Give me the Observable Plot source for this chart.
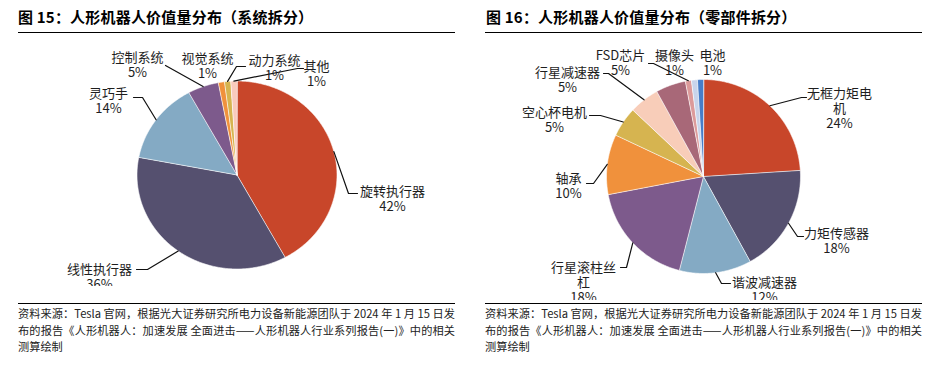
<!DOCTYPE html>
<html>
<head>
<meta charset="utf-8">
<script src="https://cdn.jsdelivr.net/npm/d3@7"></script>
<script src="https://cdn.jsdelivr.net/npm/@observablehq/plot@0.6"></script>
<style>
body{margin:0;background:#fff;font-family:"Noto Sans CJK SC","Noto Sans",sans-serif;}
.panel{position:absolute;top:0;width:465px;height:365px;}
.title{position:absolute;top:6px;font-size:15px;font-weight:700;color:#000;white-space:nowrap;letter-spacing:0.2px;}
.trule{position:absolute;width:437px;top:32px;border-top:1.3px solid #000;}
.chart{position:absolute;left:0;top:36px;width:465px;overflow:hidden;}
.crule{position:absolute;width:437px;top:303px;border-top:1px solid #000;}
.cap{position:absolute;width:437px;top:305px;font-size:11.2px;line-height:16.5px;color:#222;}
.cap div{white-space:nowrap;text-align:justify;text-align-last:justify;width:437px;}
.cap div.last{text-align-last:left;}
</style>
</head>
<body>
<div class="panel" style="left:0">
  <div class="title" style="left:18px">图 15：人形机器人价值量分布（系统拆分）</div>
  <div class="trule" style="left:18px"></div>
  <div class="chart" id="c1" style="height:250px"></div>
  <div class="crule" style="left:18px"></div>
  <div class="cap" style="left:18px" id="cap1"></div>
</div>
<div class="panel" style="left:465px">
  <div class="title" style="left:21px">图 16：人形机器人价值量分布（零部件拆分）</div>
  <div class="trule" style="left:20px"></div>
  <div class="chart" id="c2" style="height:264px"></div>
  <div class="crule" style="left:20px"></div>
  <div class="cap" style="left:20px" id="cap2"></div>
</div>
<script>
// ---- data ----
const sysNames = ["旋转执行器","线性执行器","灵巧手","控制系统","视觉系统","动力系统","其他"];
const sysValues = [42,36,14,5,1,1,1];
const partNames = ["无框力矩电机","力矩传感器","谐波减速器","行星滚柱丝杠","轴承","空心杯电机","行星减速器","FSD芯片","摄像头","","电池"];
const partValues = [24,18,12,18,10,5,5,5,1,1,1];
const captionLines = [
  "资料来源：Tesla 官网，根据光大证券研究所电力设备新能源团队于 2024 年 1 月 15 日发",
  "布的报告《人形机器人：加速发展 全面进击——人形机器人行业系列报告(一)》中的相关",
  "测算绘制"
];

// ---- styles ----
const sysColors = ["#C8462A","#55506F","#84AAC4","#7D5A8C","#F0913C","#D6B450","#F9CABC"];
const partColors = ["#C8462A","#55506F","#84AAC4","#7D5A8C","#F0913C","#D6B450","#F8CDB9","#A86878","#DC9A9A","#C8D4EB","#467DC8"];

// ---- layout (page coordinates) ----
const sysGeom = {cx:236.5, cy:174.5, rx:100, ry:94};
const partGeom = {cx:703, cy:176, rx:97, ry:97};
const sysLabelPos = [
  {x:392, y:191, end:[357,193], elbow:[348,193]},
  {x:99,  y:269, end:[136,269], elbow:[147,269]},
  {x:108, y:93,  end:[133,97],  elbow:[142,97]},
  {x:137, y:57,  end:[165,65],  elbow:null},
  {x:207, y:58},
  {x:274, y:60,  end:[245,66],  elbow:[236,66]},
  {x:316, y:66,  end:[303,68],  elbow:[297,68]}
];
const partLabelPos = [
  {x:839, y:93,  end:[806,97],  elbow:[801,97]},
  {x:836, y:233, end:[803,236], elbow:[797,236]},
  {x:764, y:282, end:[730,283], elbow:[721,283]},
  {x:583, y:267, end:[620,267], elbow:[626,267]},
  {x:568, y:178, end:[586,183], elbow:[593,183]},
  {x:554, y:112, end:[589,115], elbow:[600,115]},
  {x:567, y:72,  end:[603,73],  elbow:[608,73]},
  {x:620, y:55},
  {x:674, y:55,  end:[648,63],  elbow:[653,63]},
  null,
  {x:712, y:55}
];

const LH = 15, FS = 13;

function wrap(name){
  return name.length > 5 ? name.slice(0,5) + "\n" + name.slice(5) : name;
}

function drawPie(names, values, colors, g, labelPos, x0, top, H){
  const total = d3.sum(values);
  let acc = 0;
  const poly = [], leaders = [], texts = [];
  values.forEach((v,i)=>{
    const a0 = acc/total*2*Math.PI, a1 = (acc+v)/total*2*Math.PI;
    acc += v;
    const n = Math.max(2, Math.ceil((a1-a0)/(Math.PI/360)));
    poly.push({id:i, color:colors[i], x:g.cx, y:g.cy});
    for(let k=0;k<=n;k++){
      const a = a0+(a1-a0)*k/n;
      poly.push({id:i, color:colors[i], x:g.cx+g.rx*Math.sin(a), y:g.cy-g.ry*Math.cos(a)});
    }
    const L = labelPos[i];
    if(!L || !names[i]) return;
    const t = wrap(names[i]) + "\n" + v + "%";
    const nl = t.split("\n").length;
    texts.push({x:L.x, y:L.y+(nl-1)*LH/2, text:t});
    if(L.end){
      const am = (a0+a1)/2;
      leaders.push({id:i, x:g.cx+g.rx*Math.sin(am), y:g.cy-g.ry*Math.cos(am)});
      if(L.elbow) leaders.push({id:i, x:L.elbow[0], y:L.elbow[1]});
      leaders.push({id:i, x:L.end[0], y:L.end[1]});
    }
  });
  return Plot.plot({
    width:465, height:H, margin:0,
    x:{domain:[x0,x0+465], range:[0,465], axis:null},
    y:{domain:[top,top+H], range:[0,H], axis:null},
    color:{type:"identity"},
    style:{background:"transparent", overflow:"hidden"},
    marks:[
      Plot.line(poly, {x:"x", y:"y", z:"id", fill:"color", stroke:"white", strokeWidth:0.6, curve:"linear-closed"}),
      Plot.line(leaders, {x:"x", y:"y", z:"id", stroke:"#111", strokeWidth:1.2}),
      Plot.text(texts, {x:"x", y:"y", text:"text", fontSize:FS, lineHeight:LH/FS, fill:"#1e1e1e", fontFamily:"Noto Sans CJK SC"})
    ]
  });
}

document.getElementById("c1").appendChild(drawPie(sysNames, sysValues, sysColors, sysGeom, sysLabelPos, 0, 36, 250));
document.getElementById("c2").appendChild(drawPie(partNames, partValues, partColors, partGeom, partLabelPos, 465, 36, 264));

for(const id of ["cap1","cap2"]){
  const el = document.getElementById(id);
  captionLines.forEach((s,i)=>{
    const d = document.createElement("div");
    d.textContent = s;
    if(i===captionLines.length-1) d.className = "last";
    el.appendChild(d);
  });
}
</script>
</body>
</html>
